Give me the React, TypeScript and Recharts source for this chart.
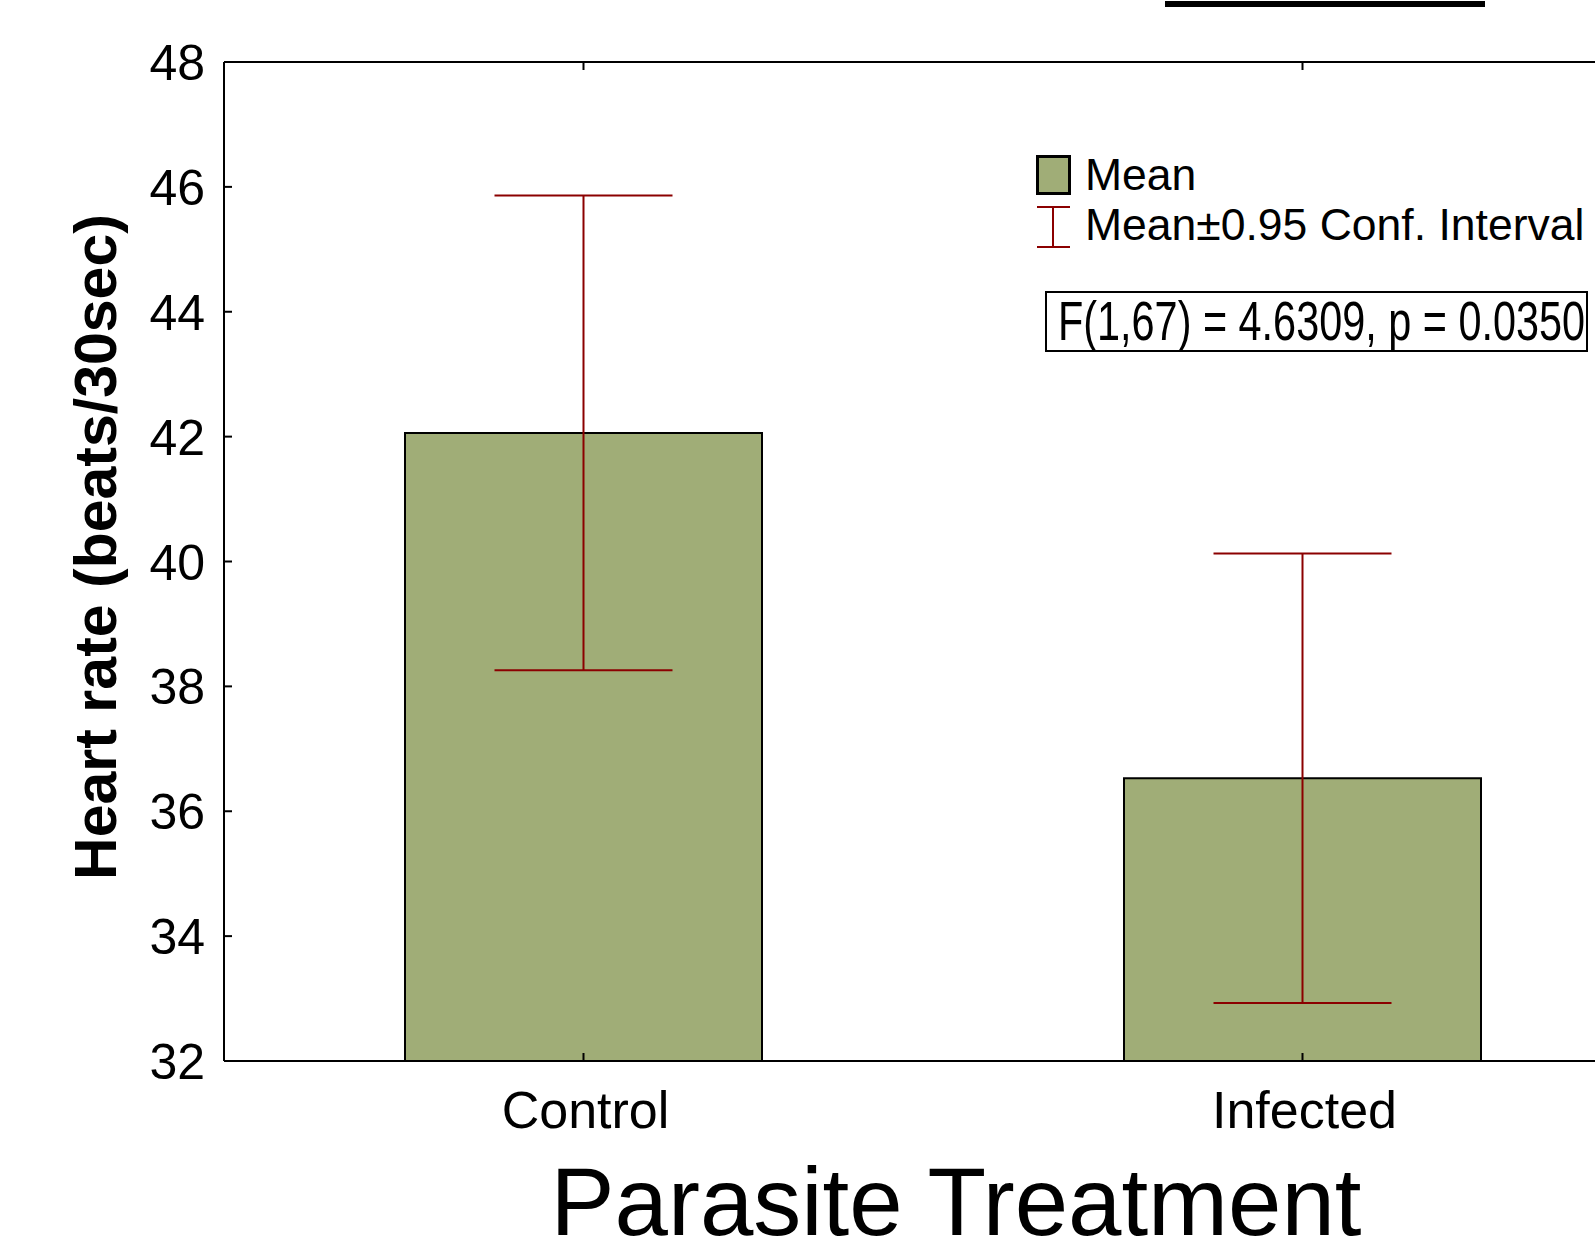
import React from 'react';
import { BarChart, Bar, XAxis, YAxis, ErrorBar, Legend } from 'recharts';

const groups = ['Control', 'Infected'];
const means = [42.06, 36.53];
const ciHalf = [3.8, 3.6];
const yTicks = [32, 34, 36, 38, 40, 42, 44, 46, 48];
const legendLabels = ['Mean', 'Mean±0.95 Conf. Interval'];
const statsText = 'F(1,67) = 4.6309, p = 0.0350';
const xTitle = 'Parasite Treatment';
const yTitle = 'Heart rate (beats/30sec)';

const data = groups.map((g, i) => ({ group: g, mean: means[i], ci: ciHalf[i] }));

const FONT = '"Liberation Sans", Arial, Helvetica, sans-serif';
const BAR_FILL = '#a0ad77';
const CI_RED = '#8b0000';

function YTick(props: any) {
  const { x, y, payload } = props;
  return (
    <g>
      <line x1={x} x2={x + 8} y1={y} y2={y} stroke="#000" strokeWidth={2} />
      <text x={x - 19} y={y} dy="0.36em" textAnchor="end" fontSize={50} fontFamily={FONT} fill="#000">
        {payload.value}
      </text>
    </g>
  );
}

function XTick(props: any) {
  const { x, y, payload } = props;
  return (
    <g>
      <line x1={x} x2={x} y1={y} y2={y - 8} stroke="#000" strokeWidth={2} />
      <text x={x + 2} y={y + 67} textAnchor="middle" fontSize={52} fontFamily={FONT} fill="#000">
        {payload.value}
      </text>
    </g>
  );
}

function TopTick(props: any) {
  const { x, y } = props;
  return <line x1={x} x2={x} y1={y} y2={y + 8} stroke="#000" strokeWidth={2} />;
}

function LegendBox() {
  return (
    <svg width={559} height={210} style={{ display: 'block', fontFamily: FONT }}>
      <rect x={1.5} y={1.5} width={32} height={37} fill={BAR_FILL} stroke="#000" strokeWidth={3} />
      <text x={49} y={35} fontSize={44.5} fill="#000">{legendLabels[0]}</text>
      <line x1={17} x2={17} y1={52} y2={92} stroke={CI_RED} strokeWidth={2} />
      <line x1={1} x2={34} y1={52} y2={52} stroke={CI_RED} strokeWidth={2} />
      <line x1={1} x2={34} y1={92} y2={92} stroke={CI_RED} strokeWidth={2} />
      <text x={49} y={85} fontSize={44.5} fill="#000">{legendLabels[1]}</text>
      <rect x={10} y={137} width={541} height={59} fill="#fff" stroke="#000" strokeWidth={2} />
      <text x={22} y={185} fontSize={56} fill="#000" textLength={527} lengthAdjust="spacingAndGlyphs">
        {statsText}
      </text>
    </svg>
  );
}

export default function App() {
  return (
    <div
      style={{
        position: 'fixed',
        left: 0,
        top: 0,
        width: 1595,
        height: 1238,
        overflow: 'hidden',
        background: '#fff',
        fontFamily: FONT,
      }}
    >
      <div style={{ position: 'absolute', left: 1165, top: 1, width: 320, height: 6, background: '#000' }} />
      <BarChart width={1700} height={1238} data={data} margin={{ top: 61, right: 38, bottom: 0, left: 0 }}>
        <XAxis
          dataKey="group"
          height={177}
          tickSize={0}
          tickMargin={0}
          tickLine={false}
          axisLine={{ stroke: '#000', strokeWidth: 2 }}
          tick={<XTick />}
          label={{
            content: () => (
              <text x={956} y={1235} textAnchor="middle" fontSize={96} fontFamily={FONT} fill="#000">
                {xTitle}
              </text>
            ),
          }}
        />
        <XAxis
          xAxisId="top"
          orientation="top"
          dataKey="group"
          height={1}
          tickSize={0}
          tickMargin={0}
          tickLine={false}
          axisLine={{ stroke: '#000', strokeWidth: 2 }}
          tick={<TopTick />}
        />
        <YAxis
          width={224}
          domain={[32, 48]}
          ticks={yTicks}
          interval={0}
          allowDataOverflow
          tickSize={0}
          tickMargin={0}
          tickLine={false}
          axisLine={{ stroke: '#000', strokeWidth: 2 }}
          tick={<YTick />}
          label={{
            content: () => (
              <text
                transform="translate(116, 547) rotate(-90)"
                textAnchor="middle"
                fontSize={59}
                fontWeight="bold"
                fontFamily={FONT}
                fill="#000"
              >
                {yTitle}
              </text>
            ),
          }}
        />
        <Legend
          layout="horizontal"
          verticalAlign="middle"
          align="center"
          wrapperStyle={{ left: 1036, top: 155, width: 559 }}
          content={() => <LegendBox />}
        />
        <Bar dataKey="mean" fill={BAR_FILL} stroke="#000" strokeWidth={2} barSize={357} isAnimationActive={false}>
          <ErrorBar dataKey="ci" width={89} stroke={CI_RED} strokeWidth={2} direction="y" isAnimationActive={false} />
        </Bar>
      </BarChart>
    </div>
  );
}
